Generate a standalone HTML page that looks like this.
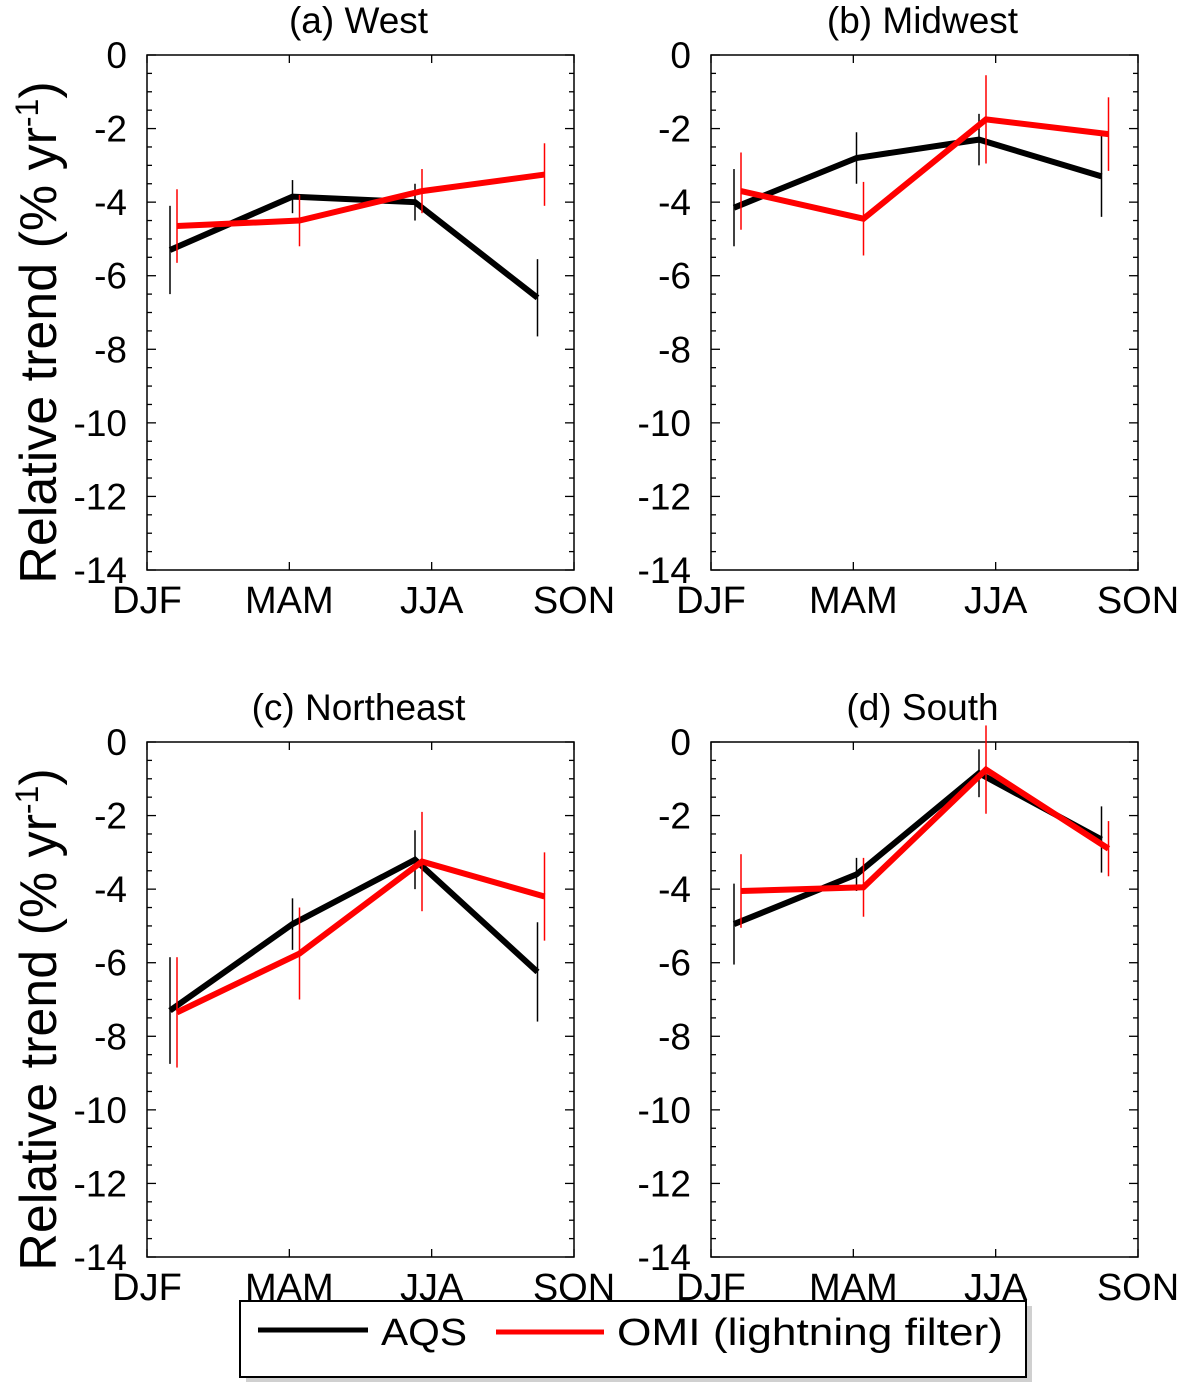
<!DOCTYPE html>
<html><head><meta charset="utf-8"><style>
body{margin:0;background:#fff;}
svg{display:block;font-family:"Liberation Sans",sans-serif;}
</style></head><body>
<svg id="chart" width="1192" height="1394" xmlns="http://www.w3.org/2000/svg">
<g id="panels"></g>
<g>
<rect x="246" y="1306" width="786" height="76" fill="#d0d0d0"/>
<rect x="240" y="1301" width="786" height="76" fill="#fff" stroke="#000" stroke-width="2"/>
<line x1="258" y1="1330" x2="368" y2="1330" stroke="#000" stroke-width="5"/>
<text x="381" y="1345" font-size="38" textLength="86" lengthAdjust="spacingAndGlyphs">AQS</text>
<line x1="496" y1="1332" x2="604" y2="1332" stroke="#f00" stroke-width="5"/>
<text x="617" y="1345" font-size="38" textLength="386" lengthAdjust="spacingAndGlyphs">OMI (lightning filter)</text>
</g>
</svg>
<script>
const seasons = ["DJF","MAM","JJA","SON"];
const yTicks = [0,-2,-4,-6,-8,-10,-12,-14];
const titles = ["(a) West","(b) Midwest","(c) Northeast","(d) South"];
const aqsVals = [[-5.3,-3.85,-4.0,-6.6],[-4.15,-2.8,-2.3,-3.3],[-7.3,-4.95,-3.2,-6.25],[-4.95,-3.6,-0.85,-2.65]];
const aqsErr = [[1.2,0.45,0.5,1.05],[1.05,0.7,0.7,1.1],[1.45,0.7,0.8,1.35],[1.1,0.45,0.65,0.9]];
const omiVals = [[-4.65,-4.5,-3.7,-3.25],[-3.7,-4.45,-1.75,-2.15],[-7.35,-5.75,-3.25,-4.2],[-4.05,-3.95,-0.75,-2.9]];
const omiErr = [[1.0,0.7,0.6,0.85],[1.05,1.0,1.2,1.0],[1.5,1.25,1.35,1.2],[1.0,0.8,1.2,0.75]];

const NS="http://www.w3.org/2000/svg";
const root=document.getElementById('panels');
function mk(tag,attrs,parent){const e=document.createElementNS(NS,tag);for(const k in attrs)e.setAttribute(k,attrs[k]);parent.appendChild(e);return e;}
const W=427,H=515;
const origins=[[147,55],[711,55],[147,742],[711,742]];
for(let p=0;p<4;p++){
  const [ox,oy]=origins[p];
  const g=mk('g',{},root);
  
  
  const ys=v=>oy+(-v)/14*H;
  const xLab=i=>ox+i*W/3;
  const xPt=(i,off)=>ox+23+i*122.5+off;
  const t=mk('text',{x:ox+W/2-2,y:oy-22,'font-size':37,'text-anchor':'middle'},g);t.textContent=titles[p];
  
  
  const fr=mk('rect',{x:ox,y:oy,width:W,height:H,fill:'none',stroke:'#000','stroke-width':1.5},g);
  
  
  for(let v=0;v>=-14;v-=0.5){
    const maj=(Math.abs(v)%2===0), L=maj?9:5, y=ys(v);
    mk('line',{x1:ox,y1:y,x2:ox+L,y2:y,stroke:'#000','stroke-width':1.3},g);
    mk('line',{x1:ox+W,y1:y,x2:ox+W-L,y2:y,stroke:'#000','stroke-width':1.3},g);
  }
  yTicks.forEach(v=>{
    const tx=mk('text',{x:ox-20,y:ys(v)+13,'font-size':37,'text-anchor':'end'},g);tx.textContent=String(v);
    
    
  });
  seasons.forEach((s,i)=>{
    const x=xLab(i);
    mk('line',{x1:x,y1:oy,x2:x,y2:oy+8,stroke:'#000','stroke-width':1.3},g);
    mk('line',{x1:x,y1:oy+H,x2:x,y2:oy+H-8,stroke:'#000','stroke-width':1.3},g);
    const tx=mk('text',{x:x,y:oy+H+43,'font-size':38,'text-anchor':'middle'},g);tx.textContent=s;
    
    
  });
  [[aqsVals,aqsErr,'#000',0,'aqs'],[omiVals,omiErr,'#f00',7,'omi']].forEach(([vals,errs,col,off,nm])=>{
    const pts=vals[p].map((v,i)=>xPt(i,off)+','+ys(v)).join(' ');
    const pl=mk('polyline',{points:pts,fill:'none',stroke:col,'stroke-width':6,'stroke-linejoin':'miter'},g);
    
    
    vals[p].forEach((v,i)=>{
      const x=xPt(i,off);
      const eb=mk('line',{x1:x,y1:ys(v+errs[p][i]),x2:x,y2:ys(v-errs[p][i]),stroke:col,'stroke-width':1.5},g);
      
      
    });
  });
  if(p%2===0){
    const yt=mk('text',{'font-size':52,'text-anchor':'middle',transform:`translate(56,${oy+H/2+20}) rotate(-90)`},g);
    yt.innerHTML='Relative trend (% yr<tspan font-size="32" dy="-18">-1</tspan><tspan dy="18">)</tspan>';
    
    
  }
}
</script>
</body></html>
